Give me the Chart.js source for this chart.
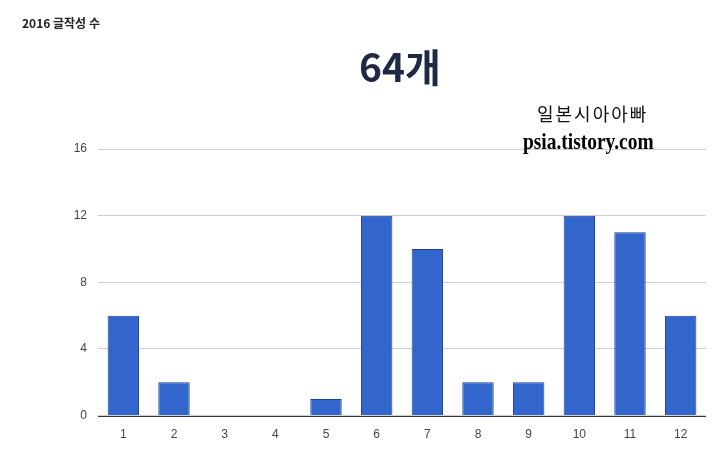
<!DOCTYPE html>
<html>
<head>
<meta charset="utf-8">
<script src="https://cdn.jsdelivr.net/npm/chart.js@4"></script>
<style>
  html, body { margin: 0; padding: 0; background: #fff; }
  #wrap { position: relative; width: 720px; height: 454px; overflow: hidden; }
  canvas { position: absolute; left: 0; top: 0; }
  .txt { position: absolute; white-space: nowrap; }
  #titulo { left: 22px; top: 14px; font: bold 12px "Noto Sans CJK KR", sans-serif; color: #222; }
  #total { left: 359px; top: 37px; font: bold 39px "Noto Sans CJK KR", sans-serif; color: #1e2a44; }
  #marca1 { left: 537px; top: 100px; font: 18px "Noto Sans CJK KR", sans-serif; color: #111; letter-spacing: 2px; }
  #marca2 { left: 523px; top: 129px; font: bold 23px "Liberation Serif", serif; color: #000; transform: scaleX(0.845); transform-origin: left; }
</style>
</head>
<body>
<div id="wrap">
  <canvas id="grafico" width="720" height="454"></canvas>
  <div class="txt" id="titulo">2016 글작성 수</div>
  <div class="txt" id="total">64개</div>
  <div class="txt" id="marca1">일본시아아빠</div>
  <div class="txt" id="marca2">psia.tistory.com</div>
</div>
<script>
// Datos del gráfico
const meses = ['1', '2', '3', '4', '5', '6', '7', '8', '9', '10', '11', '12'];
const publicaciones = [6, 2, 0, 0, 1, 12, 10, 2, 2, 12, 11, 6];
const ticksY = [0, 4, 8, 12, 16];

// Línea base negra en 0
const lineaBase = {
    id: 'lineaBase',
    afterDatasetsDraw(chart) {
        const { ctx, chartArea, scales } = chart;
        const y = Math.round(scales.y.getPixelForValue(0)) + 0.5;
        ctx.save();
        ctx.strokeStyle = '#333';
        ctx.lineWidth = 1;
        ctx.beginPath();
        ctx.moveTo(chartArea.left, y);
        ctx.lineTo(chartArea.right, y);
        ctx.stroke();
        ctx.restore();
    }
};

const ctx = document.getElementById('grafico');
new Chart(ctx, {
    type: 'bar',
    data: {
        labels: meses,
        datasets: [{
            data: publicaciones,
            backgroundColor: '#3366cc',
            borderColor: '#1f3f8f',
            borderWidth: 1,
            categoryPercentage: 1,
            barPercentage: 0.62
        }]
    },
    options: {
        responsive: false,
        animation: false,
        layout: { padding: { top: 149, right: 14, left: 0, bottom: 8 } },
        plugins: { legend: { display: false }, tooltip: { enabled: false } },
        scales: {
            x: {
                grid: { display: false },
                border: { display: false },
                ticks: { color: '#444', font: { family: 'Arial, "Liberation Sans"', size: 12 }, padding: 4 }
            },
            y: {
                min: 0,
                max: 16,
                afterBuildTicks(axis) { axis.ticks = ticksY.map(v => ({ value: v })); },
                afterFit(axis) { axis.width = 98; },
                grid: { color: '#d0d0d0', drawTicks: false },
                border: { display: false },
                ticks: { color: '#444', font: { family: 'Arial, "Liberation Sans"', size: 12 }, padding: 11 }
            }
        }
    },
    plugins: [lineaBase]
});
</script>
</body>
</html>
